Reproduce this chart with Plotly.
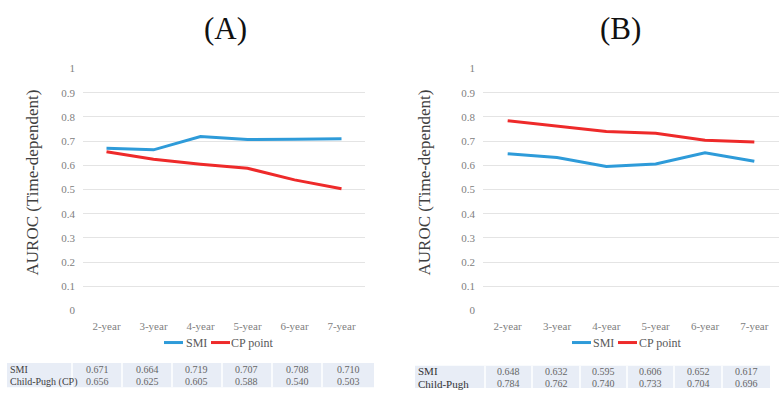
import plotly.graph_objects as go

# ---- data ----
years = ["2-year", "3-year", "4-year", "5-year", "6-year", "7-year"]
smi_a = [0.671, 0.664, 0.719, 0.707, 0.708, 0.710]
cp_a = [0.656, 0.625, 0.605, 0.588, 0.540, 0.503]
smi_b = [0.648, 0.632, 0.595, 0.606, 0.652, 0.617]
cp_b = [0.784, 0.762, 0.740, 0.733, 0.704, 0.696]
y_ticks = [0, 0.1, 0.2, 0.3, 0.4, 0.5, 0.6, 0.7, 0.8, 0.9, 1]
y_tick_text = ["0", "0.1", "0.2", "0.3", "0.4", "0.5", "0.6", "0.7", "0.8", "0.9", "1"]
row_labels_a = ["SMI", "Child-Pugh (CP)"]
row_labels_b = ["SMI", "Child-Pugh"]
series_names = ["SMI", "CP point"]
panel_titles = ["(A)", "(B)"]
y_title = "AUROC (Time-dependent)"

W, H = 783, 398
SERIF = "Liberation Serif, Times New Roman, serif"
BLUE = "#2e9bd9"
RED = "#ee2a2a"
COLORS = [BLUE, RED]


def px(x):
    return x / W


def py(y):
    return (H - y) / H


fig = go.Figure()

for xa, ya, series in [("x", "y", [smi_a, cp_a]), ("x2", "y2", [smi_b, cp_b])]:
    for name, vals, col in zip(series_names, series, COLORS):
        fig.add_trace(go.Scatter(x=years, y=vals, name=name, mode="lines",
                                 line=dict(color=col, width=3), xaxis=xa, yaxis=ya,
                                 showlegend=False))

tick_font = dict(family=SERIF, size=11, color="#808080")
y_dom = [py(314), py(64.5)]


def xaxis(dom, anchor):
    return dict(domain=dom, anchor=anchor, type="category", range=[-0.5, 5.5],
                showgrid=False, zeroline=False, showline=False, ticks="",
                tickfont=tick_font, ticklabelstandoff=7, fixedrange=True)


def yaxis(anchor):
    return dict(domain=y_dom, anchor=anchor, range=[0, 1], tickvals=y_ticks,
                ticktext=y_tick_text, showgrid=True, gridcolor="#e4e4e4",
                gridwidth=1, zeroline=False, showline=False, ticks="",
                tickfont=tick_font, ticklabelstandoff=7, fixedrange=True)


fig.update_layout(
    width=W, height=H, margin=dict(l=0, r=0, t=0, b=0),
    paper_bgcolor="white", plot_bgcolor="white",
    xaxis=xaxis([px(83), px(365)], "y"),
    yaxis=yaxis("x"),
    xaxis2=xaxis([px(483), px(779)], "y2"),
    yaxis2=yaxis("x2"),
)

annotations = []
shapes = []

# panel titles
for title, cx in zip(panel_titles, [226, 620]):
    annotations.append(dict(text=title, x=px(cx), y=py(23), xref="paper", yref="paper",
                            showarrow=False, xanchor="center", yanchor="middle",
                            font=dict(family=SERIF, size=31, color="#111111")))
# y-axis titles
for cx in [33, 425]:
    annotations.append(dict(text=y_title, x=px(cx), y=py(182), xref="paper", yref="paper",
                            showarrow=False, textangle=-90, xanchor="center",
                            yanchor="middle",
                            font=dict(family=SERIF, size=17, color="#404040")))

# compact legends under each panel: (line start, text start) per entry
legend_slots = [[(164, 184), (211, 229)], [(572, 591), (618, 637)]]
LEG_Y = 347
for slots in legend_slots:
    for (lx, tx), name, col in zip(slots, series_names, COLORS):
        shapes.append(dict(type="line", xref="paper", yref="paper",
                           x0=px(lx), x1=px(lx + 19), y0=py(LEG_Y), y1=py(LEG_Y),
                           line=dict(color=col, width=3)))
        annotations.append(dict(text=name, x=px(tx), y=py(LEG_Y), xref="paper",
                                yref="paper", showarrow=False, xanchor="left",
                                yanchor="middle",
                                font=dict(family=SERIF, size=12, color="#595959")))


def add_table(edges, top, bottom, row_ys, labels, rows, label_size, label_color):
    shapes.append(dict(type="rect", xref="paper", yref="paper",
                       x0=px(edges[0]), x1=px(edges[-1]), y0=py(bottom), y1=py(top),
                       fillcolor="#e8edf6", line=dict(width=0), layer="below"))
    for e in edges[1:-1]:
        shapes.append(dict(type="line", xref="paper", yref="paper",
                           x0=px(e), x1=px(e), y0=py(bottom), y1=py(top),
                           line=dict(color="white", width=1.5)))
    for lab, vals, ry in zip(labels, rows, row_ys):
        annotations.append(dict(text=lab, x=px(edges[0] + 1), y=py(ry), xref="paper",
                                yref="paper", showarrow=False, xanchor="left",
                                yanchor="middle",
                                font=dict(family=SERIF, size=label_size, color=label_color)))
        for i, v in enumerate(vals):
            cx = (edges[i + 1] + edges[i + 2]) / 2
            annotations.append(dict(text=f"{v:.3f}", x=px(cx), y=py(ry), xref="paper",
                                    yref="paper", showarrow=False, xanchor="center",
                                    yanchor="middle",
                                    font=dict(family=SERIF, size=10, color="#666666")))


add_table([7, 72, 122, 172, 222, 272, 322, 374], 368, 393, [374.5, 387.5],
          row_labels_a, [smi_a, cp_a], 10, "#404040")
add_table([415, 485, 532, 580, 627, 674, 722, 770], 371, 394, [376.5, 389.5],
          row_labels_b, [smi_b, cp_b], 11, "#333333")

fig.update_layout(annotations=annotations, shapes=shapes)

fig.write_html("out.html")
